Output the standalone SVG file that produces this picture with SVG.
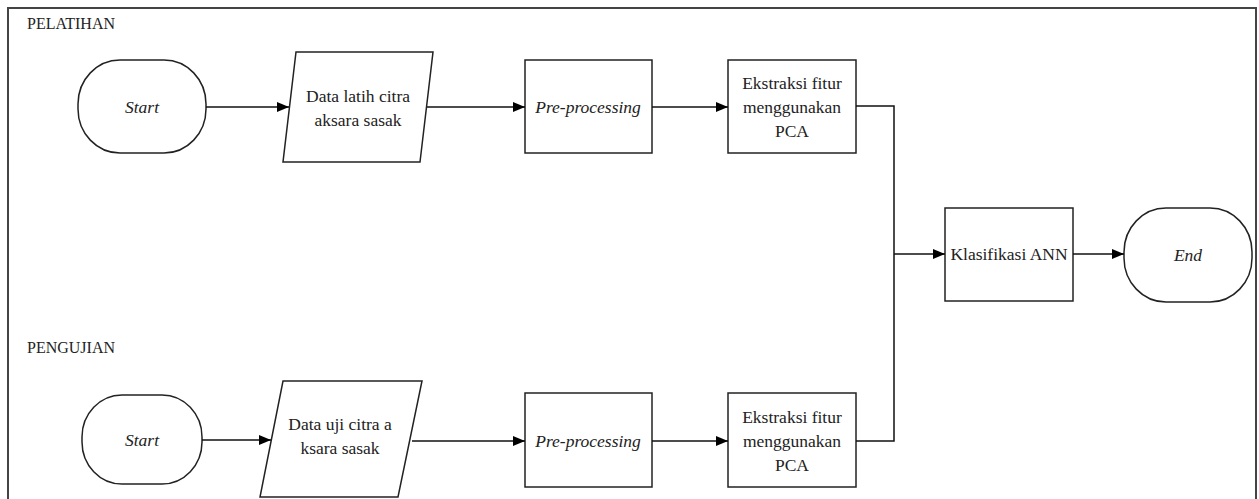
<svg xmlns="http://www.w3.org/2000/svg" width="1259" height="499" viewBox="0 0 1259 499">
<defs>
<marker id="arr" viewBox="0 0 12 10" refX="12" refY="5" markerWidth="12" markerHeight="10" markerUnits="userSpaceOnUse" orient="auto">
<path d="M0,0 L12,5 L0,10 z" fill="#000"/>
</marker>
</defs>
<style>
.shape{fill:#fff;stroke:#222;stroke-width:1.5}
.t{font-family:'Liberation Serif','DejaVu Serif',serif;font-size:17.5px;fill:#222;text-anchor:middle}
.i{font-style:italic}
.lbl{font-family:'Liberation Serif','DejaVu Serif',serif;font-size:16px;fill:#222}
.c{fill:none;stroke:#111;stroke-width:1.5}
</style>
<rect width="1259" height="499" fill="#fff"/>
<path d="M8,499 L8,8 L1256,8 L1256,499" fill="none" stroke="#444" stroke-width="2"/>
<text class="lbl" x="27" y="29">PELATIHAN</text>
<text class="lbl" x="27" y="353">PENGUJIAN</text>

<g id="start1"><rect class="shape" x="78" y="60" width="128" height="93" rx="42" ry="44"/><text class="t i" x="142" y="113">Start</text></g>
<g id="data1"><polygon class="shape" points="296,52 433,52 420,162 283,162"/><text class="t" x="358" y="102">Data latih citra</text><text class="t" x="358" y="126">aksara sasak</text></g>
<g id="pre1"><rect class="shape" x="525" y="60" width="127" height="93"/><text class="t i" x="588" y="113">Pre-processing</text></g>
<g id="eks1"><rect class="shape" x="728" y="60" width="128" height="93"/><text class="t" x="792" y="89">Ekstraksi fitur</text><text class="t" x="792" y="113">menggunakan</text><text class="t" x="792" y="137">PCA</text></g>

<g id="start2"><rect class="shape" x="82" y="395" width="120" height="89" rx="40" ry="42"/><text class="t i" x="142" y="446">Start</text></g>
<g id="data2"><polygon class="shape" points="283,381 422,381 398,497 260,497"/><text class="t" x="340" y="430">Data uji citra a</text><text class="t" x="340" y="454">ksara sasak</text></g>
<g id="pre2"><rect class="shape" x="525" y="393" width="127" height="94"/><text class="t i" x="588" y="447">Pre-processing</text></g>
<g id="eks2"><rect class="shape" x="728" y="393" width="128" height="94"/><text class="t" x="792" y="423">Ekstraksi fitur</text><text class="t" x="792" y="447">menggunakan</text><text class="t" x="792" y="471">PCA</text></g>

<g id="ann"><rect class="shape" x="945" y="208" width="128" height="93"/><text class="t" x="1009" y="260">Klasifikasi ANN</text></g>
<g id="end"><rect class="shape" x="1124" y="208" width="128" height="94" rx="42" ry="44"/><text class="t i" x="1188" y="261">End</text></g>

<g id="connectors">
<line class="c" x1="206" y1="107" x2="289" y2="107" marker-end="url(#arr)"/>
<line class="c" x1="427" y1="107" x2="525" y2="107" marker-end="url(#arr)"/>
<line class="c" x1="652" y1="107" x2="728" y2="107" marker-end="url(#arr)"/>
<polyline class="c" points="856,106 894,106 894,254"/>
<line class="c" x1="202" y1="440" x2="271" y2="440" marker-end="url(#arr)"/>
<line class="c" x1="412" y1="441" x2="525" y2="441" marker-end="url(#arr)"/>
<line class="c" x1="652" y1="441" x2="728" y2="441" marker-end="url(#arr)"/>
<polyline class="c" points="856,441 894,441 894,254"/>
<line class="c" x1="894" y1="254" x2="945" y2="254" marker-end="url(#arr)"/>
<line class="c" x1="1073" y1="254" x2="1124" y2="254" marker-end="url(#arr)"/>
</g>
</svg>
